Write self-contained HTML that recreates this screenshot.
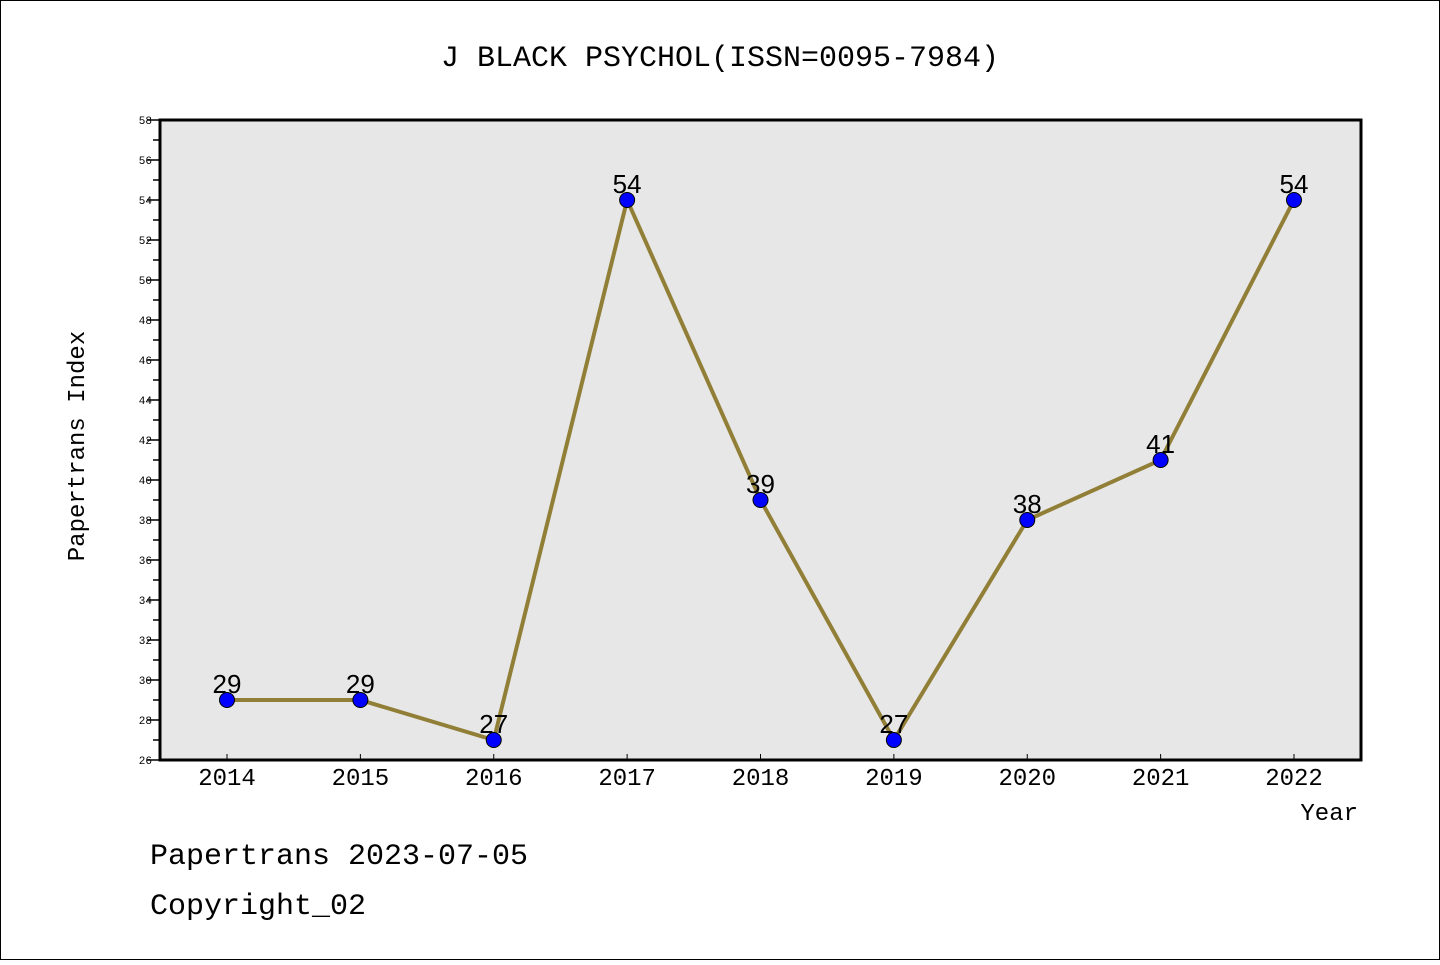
<!DOCTYPE html>
<html><head><meta charset="utf-8"><style>
body{margin:0;background:#fff}
svg text{font-family:"WenQuanYi Zen Hei Mono","WenQuanYi Zen Hei","Liberation Mono",monospace}
</style></head><body>
<svg id="chart" width="1440" height="960" xmlns="http://www.w3.org/2000/svg">
<rect x="0.5" y="0.5" width="1439" height="959" fill="#fff" stroke="#000"/>
<text x="720" y="66" font-size="30" text-anchor="middle">J BLACK PSYCHOL(ISSN=0095-7984)</text>
<rect x="160" y="120" width="1201" height="640" fill="#e7e7e7" stroke="#000" stroke-width="3"/>
<text transform="translate(84,446) rotate(-90)" font-size="24" text-anchor="middle">Papertrans Index</text>
<text x="1358" y="820" font-size="24" text-anchor="end">Year</text>
<text x="150" y="864" font-size="30">Papertrans 2023-07-05</text>
<text x="150" y="914" font-size="30">Copyright_02</text>
<g id="axes"></g><g id="series"></g>
</svg>
<script>
const years=["2014","2015","2016","2017","2018","2019","2020","2021","2022"];
const values=[29,29,27,54,39,27,38,41,54];
const yTicks=[26,28,30,32,34,36,38,40,42,44,46,48,50,52,54,56,58];
const NS="http://www.w3.org/2000/svg";
function yS(v){return 760-(v-26)*20;}
function xS(i){return 227+i*133.375;}
function mk(t,a,p){const e=document.createElementNS(NS,t);for(const k in a)e.setAttribute(k,a[k]);p.appendChild(e);return e;}
const ax=document.getElementById('axes'),se=document.getElementById('series');
yTicks.forEach(v=>{
 const l=mk('line',{x1:147,x2:160,y1:yS(v),y2:yS(v),stroke:'#000','stroke-width':1.5},ax);
 
 
 if(v<58){const m=mk('line',{x1:153,x2:160,y1:yS(v+1),y2:yS(v+1),stroke:'#000','stroke-width':1.5},ax);
 
 }
 const t=mk('text',{x:152,y:yS(v)+4,'font-size':11,'text-anchor':'end'},ax);t.textContent=v;
 
 
});
years.forEach((y,i)=>{
 const l=mk('line',{x1:xS(i),x2:xS(i),y1:754,y2:760,stroke:'#000','stroke-width':1},ax);
 
 
 const t=mk('text',{x:xS(i),y:785,'font-size':24,'text-anchor':'middle'},ax);t.textContent=y;
 
 
});
const pl=mk('polyline',{points:values.map((v,i)=>xS(i)+','+yS(v)).join(' '),fill:'none',stroke:'#927f37','stroke-width':4},se);


values.forEach((v,i)=>{
 const c=mk('circle',{cx:xS(i),cy:yS(v),r:7.5,fill:'#0000ff',stroke:'#000','stroke-width':1},se);
 
 
 const t=mk('text',{x:xS(i),y:yS(v)-7,'font-size':26,'text-anchor':'middle',style:'font-family:"Liberation Sans",sans-serif'},se);t.textContent=v;
 
 
});
</script>
</body></html>
